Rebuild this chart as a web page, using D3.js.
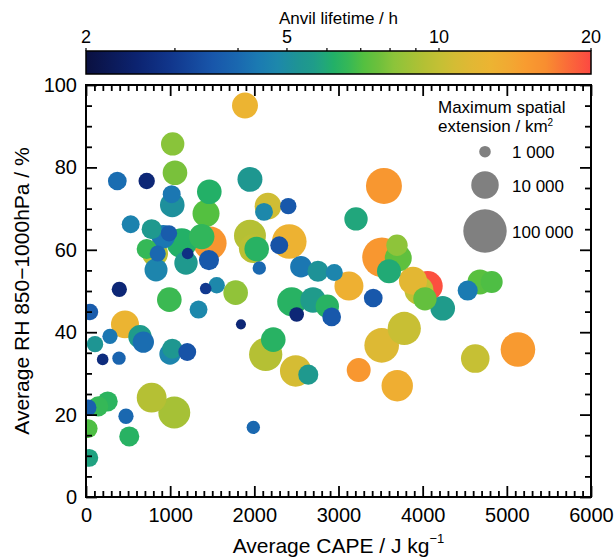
<!DOCTYPE html>
<html>
<head>
<meta charset="utf-8">
<script src="https://cdn.jsdelivr.net/npm/d3@7"></script>
<style>
  body { margin: 0; background: #fff; }
  svg { display: block; font-family: "Liberation Sans", Arial, Helvetica, sans-serif; }
</style>
</head>
<body>
<svg id="chart" width="616" height="558"></svg>
<script>
// Convective cells: mean CAPE (J/kg), mean RH 850-1000 hPa (%),
// anvil lifetime (h) and maximum spatial extension (km²)
const cape = [1889,1030,1057,372,721,1948,1018,1025,1465,1426,531,780,918,986,721,820,852,832,1137,1208,
  1188,1473,1375,1461,1948,1988,2028,2059,2115,2162,2403,2296,2415,2554,2756,2950,3124,3540,3208,3516,
  3695,3710,3600,3885,3956,4060,4027,3413,4238,4535,4681,4820,396,990,1422,1553,1778,1337,48,2444,
  2697,2867,2503,2919,463,285,107,198,392,641,681,998,1025,1203,1841,2135,2225,2491,2641,3240,
  3513,3781,3698,4625,5132,780,1049,258,146,27,475,27,514,39,1988];
const rh = [95.0,85.7,78.7,76.7,76.7,77.1,73.5,70.9,74.1,68.8,66.2,65.0,63.2,64.0,60.2,59.1,59.1,55.1,61.6,59.1,
  56.8,61.6,63.2,57.5,63.4,60.3,60.2,55.6,69.2,70.6,70.6,61.1,62.0,55.9,54.8,54.5,51.2,75.5,67.5,58.2,
  61.1,58.0,54.8,52.5,50.2,51.2,48.1,48.3,45.8,50.1,52.2,52.2,50.4,47.9,50.6,51.4,49.6,45.5,44.9,47.4,
  47.8,46.3,44.3,43.7,41.9,39.0,37.1,33.4,33.7,38.9,37.6,34.7,36.0,35.2,41.9,34.6,38.2,30.6,29.7,30.8,
  36.8,40.9,27.0,33.6,35.8,24.1,20.5,23.2,22.0,21.7,19.6,16.6,14.7,9.5,16.9];
const lifetime = [12.6,8.1,7.8,4.1,2.6,5.4,4.3,5.1,6.2,7.1,4.6,5.5,4.3,3.7,6.6,9.6,4.0,4.7,6.2,2.8,
  5.5,15.5,6.5,3.6,9.4,9.6,6.3,4.0,4.8,10.5,3.6,3.5,12.8,4.3,5.2,4.7,13.0,15.3,5.9,15.3,
  8.2,7.3,6.0,11.8,10.0,19.5,7.4,3.6,5.6,4.4,7.2,7.0,2.6,6.7,3.0,4.8,8.3,4.8,3.7,6.3,
  5.6,6.3,2.6,3.6,12.5,4.3,5.3,2.7,3.9,5.6,4.1,4.7,5.4,3.5,2.6,9.4,6.3,10.8,5.5,15.3,
  11.3,10.2,13.2,10.1,15.0,9.4,8.9,6.4,6.6,3.8,4.0,7.0,6.3,5.8,4.0];
const extension = [8000,5500,6600,2800,2000,6900,2500,6600,6600,9300,2500,3400,5500,2000,3400,8000,1900,5200,14000,1000,
  5500,23000,7400,3400,19000,12300,6600,1300,2500,8800,2000,2500,28000,4250,3900,2200,12400,34000,5500,56000,
  4100,9300,6000,10800,12400,14400,5500,2800,6600,3400,6900,4500,1700,6600,1000,2000,6600,2500,2000,12400,
  7400,5500,1550,2800,10700,1700,2000,1000,1300,5500,4100,4100,3400,2500,800,23000,6600,17600,3400,6000,
  28000,23000,17600,11700,28000,14000,19000,3400,3400,2000,1700,2800,3400,2500,1300];

const xTicks = [0, 1000, 2000, 3000, 4000, 5000, 6000];
const yTicks = [0, 20, 40, 60, 80, 100];
const cbTickLabels = [2, 5, 10, 20];
const cbTickMarks = [2, 3, 4, 5, 6, 7, 8, 9, 10, 20];
const legendSizes = [1000, 10000, 100000];
const legendLabels = ["1 000", "10 000", "100 000"];

const svg = d3.select("#chart");
const L = 86, R = 591, T = 85, B = 497;

const x = d3.scaleLinear().domain([0, 6000]).range([L, R]);
const y = d3.scaleLinear().domain([0, 100]).range([B, T]);
const rScale = d3.scaleLog().domain([1000, 100000]).range([5.8, 21.7]);

// colour map: dark navy -> blue -> teal -> green -> yellow -> orange -> red
const cmapStops = [
  [0.00, "#0a1040"], [0.10, "#0c2370"], [0.17, "#11378d"], [0.25, "#1856aa"],
  [0.30, "#1a68b0"], [0.34, "#1b7ab2"], [0.38, "#1d88ab"], [0.42, "#1e9494"],
  [0.45, "#1f9c8a"], [0.47, "#21a67c"], [0.49, "#22b068"], [0.52, "#36b856"],
  [0.55, "#54c040"], [0.58, "#6ec03c"], [0.61, "#8cc43a"], [0.67, "#b4c034"],
  [0.70, "#c4c034"], [0.73, "#d4bc34"], [0.76, "#e0b834"], [0.80, "#ecb432"],
  [0.84, "#f2a832"], [0.87, "#f89c30"], [0.91, "#f88e30"], [0.95, "#fa6e38"],
  [1.00, "#fc4842"]
];
const tLife = d3.scaleLog().domain([2, 20]).range([0, 1]).clamp(true);
const cmap = d3.scaleLinear()
  .domain(cmapStops.map(d => d[0]))
  .range(cmapStops.map(d => d[1]))
  .interpolate(d3.interpolateRgb);
const color = v => cmap(tLife(v));

// ---- colour bar ----
const cbTop = 51, cbBot = 74;
const cbX = d3.scaleLog().domain([2, 20]).range([L, R]);
const defs = svg.append("defs");
const grad = defs.append("linearGradient").attr("id", "cbgrad")
  .attr("x1", "0%").attr("x2", "100%").attr("y1", "0%").attr("y2", "0%");
cmapStops.forEach(s => grad.append("stop")
  .attr("offset", (s[0] * 100) + "%").attr("stop-color", s[1]));
svg.append("rect").attr("x", L).attr("y", cbTop)
  .attr("width", R - L).attr("height", cbBot - cbTop)
  .attr("fill", "url(#cbgrad)").attr("stroke", "#000").attr("stroke-width", 1.5);
svg.append("g").selectAll("line").data(cbTickMarks).join("line")
  .attr("x1", d => cbX(d)).attr("x2", d => cbX(d))
  .attr("y1", cbTop).attr("y2", cbTop - 3)
  .attr("stroke", "#000").attr("stroke-width", 1.2);
svg.append("g").selectAll("text").data(cbTickLabels).join("text")
  .attr("x", d => cbX(d)).attr("y", 43)
  .attr("text-anchor", "middle").attr("font-size", 18)
  .text(d => d);
svg.append("text").attr("x", (L + R) / 2).attr("y", 24)
  .attr("text-anchor", "middle").attr("font-size", 17)
  .text("Anvil lifetime / h");

// ---- bubbles ----
defs.append("clipPath").attr("id", "plotclip")
  .append("rect").attr("x", L).attr("y", T).attr("width", R - L).attr("height", B - T);

const cells = cape.map((c, i) => ({ c, h: rh[i], life: lifetime[i], ext: extension[i] }))
  .sort((a, b) => b.ext - a.ext);

svg.append("g").attr("clip-path", "url(#plotclip)")
  .selectAll("circle").data(cells).join("circle")
  .attr("cx", d => x(d.c)).attr("cy", d => y(d.h))
  .attr("r", d => rScale(d.ext))
  .attr("fill", d => color(d.life));

// ---- axes (inward ticks on all four sides) ----
const xMinor = d3.range(0, 6001, 100).filter(v => v % 1000 !== 0);
const yMinor = d3.range(0, 101, 5).filter(v => v % 20 !== 0);
const MAJ = 11, MIN = 6;

function styleAxis(g) {
  g.select(".domain").remove();
  g.selectAll(".tick line").attr("stroke", "#000").attr("stroke-width", 1.8);
  g.selectAll("text").attr("font-size", 20).attr("fill", "#000")
    .attr("font-family", "'Liberation Sans', Arial, sans-serif");
}

svg.append("g").attr("transform", `translate(0,${B})`)
  .call(d3.axisBottom(x).tickValues(xTicks).tickSize(-MAJ).tickPadding(11).tickFormat(d3.format("d")))
  .call(styleAxis);
svg.append("g").attr("transform", `translate(0,${B})`)
  .call(d3.axisBottom(x).tickValues(xMinor).tickSize(-MIN).tickFormat(""))
  .call(styleAxis);
svg.append("g").attr("transform", `translate(0,${T})`)
  .call(d3.axisTop(x).tickValues(xTicks).tickSize(-MAJ).tickFormat(""))
  .call(styleAxis);
svg.append("g").attr("transform", `translate(0,${T})`)
  .call(d3.axisTop(x).tickValues(xMinor).tickSize(-MIN).tickFormat(""))
  .call(styleAxis);

svg.append("g").attr("transform", `translate(${L},0)`)
  .call(d3.axisLeft(y).tickValues(yTicks).tickSize(-MAJ).tickPadding(9).tickFormat(d3.format("d")))
  .call(styleAxis);
svg.append("g").attr("transform", `translate(${L},0)`)
  .call(d3.axisLeft(y).tickValues(yMinor).tickSize(-MIN).tickFormat(""))
  .call(styleAxis);
svg.append("g").attr("transform", `translate(${R},0)`)
  .call(d3.axisRight(y).tickValues(yTicks).tickSize(-MAJ).tickFormat(""))
  .call(styleAxis);
svg.append("g").attr("transform", `translate(${R},0)`)
  .call(d3.axisRight(y).tickValues(yMinor).tickSize(-MIN).tickFormat(""))
  .call(styleAxis);

// frame
svg.append("rect").attr("x", L).attr("y", T).attr("width", R - L).attr("height", B - T)
  .attr("fill", "none").attr("stroke", "#000").attr("stroke-width", 2);

// axis titles
const xt = svg.append("text").attr("x", (L + R) / 2).attr("y", 553)
  .attr("text-anchor", "middle").attr("font-size", 21);
xt.append("tspan").text("Average CAPE / J kg");
xt.append("tspan").attr("font-size", 13).attr("dy", -10).text("\u22121");

svg.append("text").attr("transform", `translate(29,${(T + B) / 2}) rotate(-90)`)
  .attr("text-anchor", "middle").attr("font-size", 21)
  .text("Average RH 850\u22121000hPa / %");

// ---- size legend ----
const lg = svg.append("g");
lg.append("text").attr("x", 438).attr("y", 112.5).attr("font-size", 17).text("Maximum spatial");
const l2 = lg.append("text").attr("x", 438).attr("y", 132).attr("font-size", 17);
l2.append("tspan").text("extension / km");
l2.append("tspan").attr("font-size", 10).attr("dy", -6).text("2");

const legendY = [151.7, 185, 231];
lg.selectAll("circle").data(legendSizes).join("circle")
  .attr("cx", 485).attr("cy", (d, i) => legendY[i])
  .attr("r", d => rScale(d)).attr("fill", "#808080");
lg.selectAll("text.lab").data(legendLabels).join("text").attr("class", "lab")
  .attr("x", 512).attr("y", (d, i) => legendY[i] + 6.5)
  .attr("font-size", 17).text(d => d);
</script>
</body>
</html>
